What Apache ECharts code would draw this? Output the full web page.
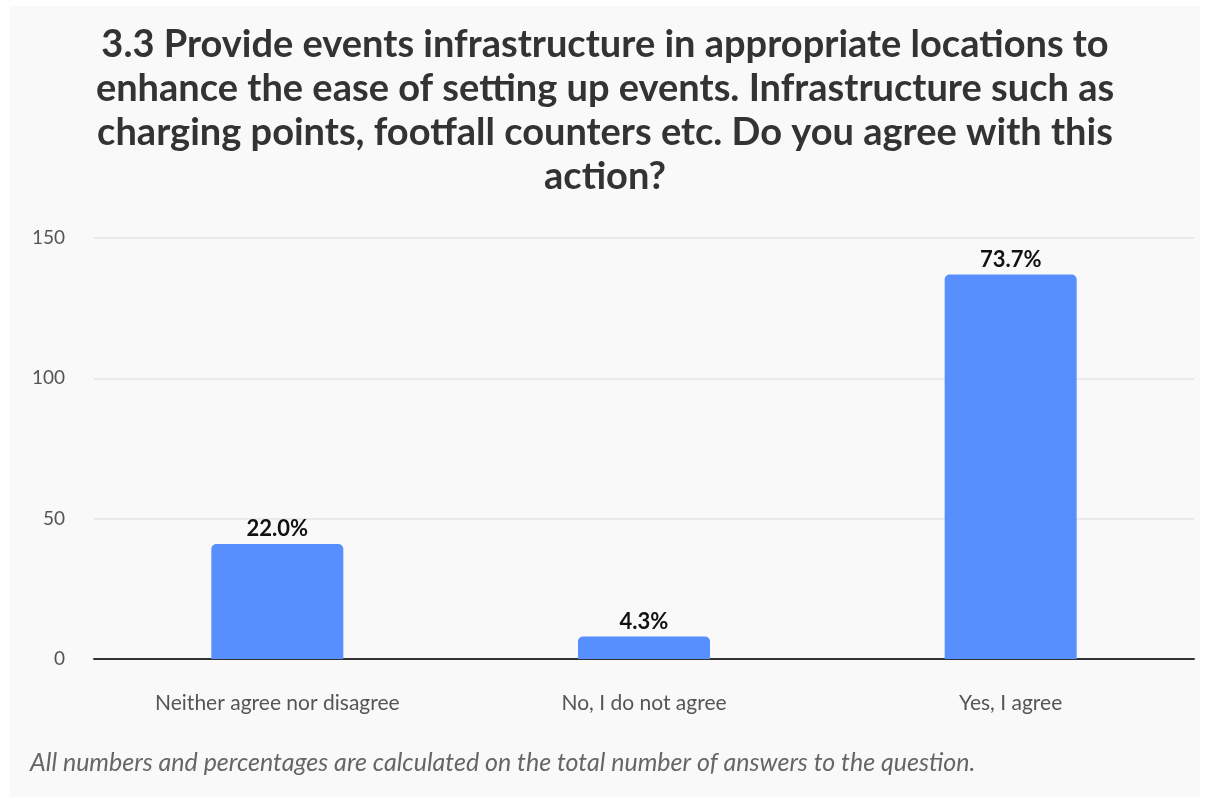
<!DOCTYPE html>
<html>
<head>
<meta charset="utf-8">
<script src="https://cdn.jsdelivr.net/npm/echarts@6/dist/echarts.min.js"></script>
<style>
  html, body { margin: 0; padding: 0; background: #ffffff; }
  #chart { position: absolute; left: 10px; top: 6px; width: 1190px; height: 791px; background: #f9f9f9; }
</style>
</head>
<body>
<div id="chart"></div>
<script>
// Survey answers (counts) for question 3.3
const categories = ['Neither agree nor disagree', 'No, I do not agree', 'Yes, I agree'];
const counts = [41, 8, 137];
const percentLabels = ['22.0%', '4.3%', '73.7%'];
const yTicks = [0, 50, 100, 150];

const titleLines = [
  '3.3 Provide events infrastructure in appropriate locations to',
  'enhance the ease of setting up events. Infrastructure such as',
  'charging points, footfall counters etc. Do you agree with this',
  'action?'
];
const footnote = 'All numbers and percentages are calculated on the total number of answers to the question.';

const chart = echarts.init(document.getElementById('chart'), null, { renderer: 'canvas' });

chart.setOption({
  backgroundColor: '#f9f9f9',
  animation: false,
  textStyle: { fontFamily: 'Lato, "Noto Sans", sans-serif' },
  title: {
    text: titleLines.join('\n'),
    left: 'center',
    top: 12,
    textStyle: {
      fontFamily: 'Lato, "Noto Sans", sans-serif',
      fontSize: 38,
      fontWeight: 'bold',
      color: '#333333',
      lineHeight: 44
    }
  },
  graphic: [{
    type: 'text',
    left: 20,
    top: 744,
    style: {
      text: footnote,
      font: 'italic 25px Lato, "Noto Sans", sans-serif',
      fill: '#666666'
    }
  }],
  grid: { left: 84, right: 6, top: 232, bottom: 138 },
  xAxis: {
    type: 'category',
    data: categories,
    axisLine: { show: true, lineStyle: { color: '#333333', width: 2 } },
    axisTick: { show: false },
    axisLabel: { color: '#555555', fontSize: 21, margin: 34 }
  },
  yAxis: {
    type: 'value',
    min: yTicks[0],
    max: yTicks[yTicks.length - 1],
    interval: 50,
    axisLine: { show: false },
    axisTick: { show: false },
    splitLine: { lineStyle: { color: '#e4e4e4', width: 1.5 } },
    axisLabel: { color: '#555555', fontSize: 19, margin: 29 }
  },
  series: [{
    type: 'bar',
    data: counts,
    barWidth: '36%',
    itemStyle: { color: '#578fff', borderRadius: [5, 5, 0, 0] },
    label: {
      show: true,
      position: 'top',
      distance: 4,
      color: '#111111',
      fontSize: 22,
      fontWeight: 'bold',
      formatter: p => percentLabels[p.dataIndex]
    }
  }]
});
</script>
</body>
</html>
